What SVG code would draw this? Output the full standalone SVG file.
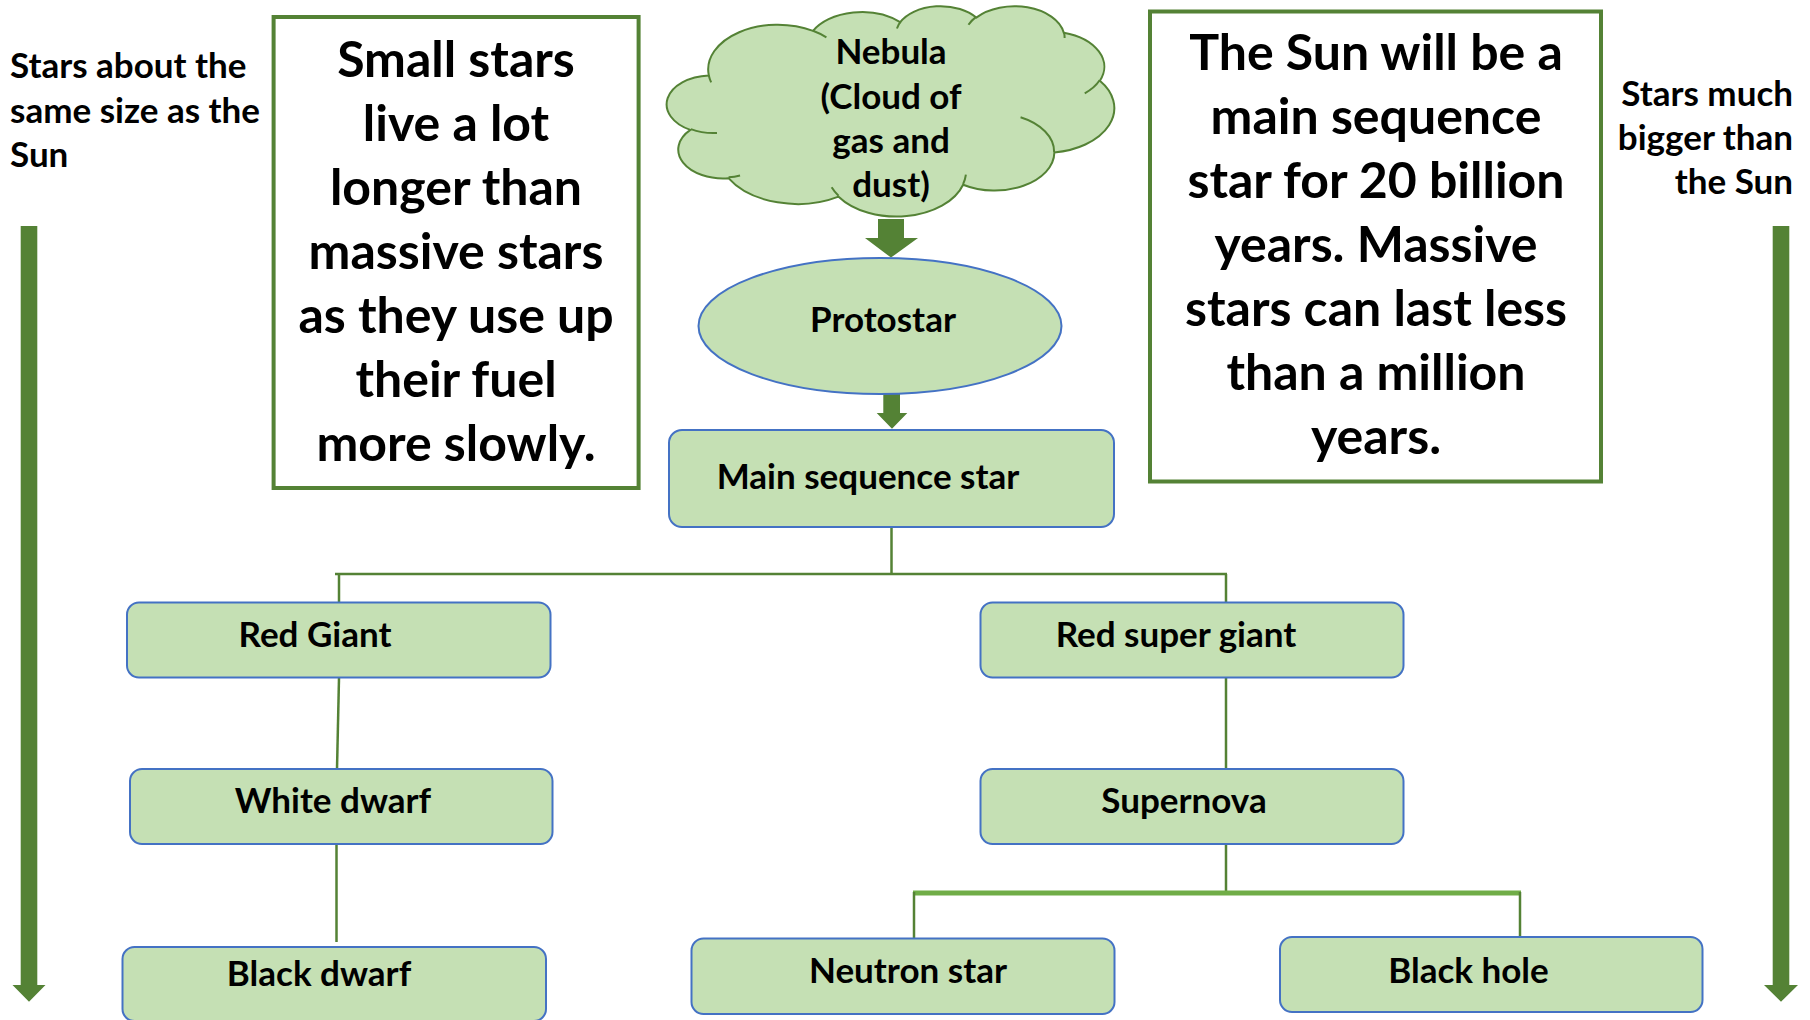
<svg xmlns="http://www.w3.org/2000/svg" width="1810" height="1020" viewBox="0 0 1810 1020">
<style>
text{font-family:Lato,"Liberation Sans",sans-serif;font-weight:700;fill:#000}
.lbl{font-size:35px}
.big{font-size:50px;text-anchor:middle}
.mid{text-anchor:middle}
.node{fill:#C5E0B4;stroke:#4472C4;stroke-width:2}
.conn{stroke:#548235;stroke-width:2.5;fill:none}
.note{fill:#fff;stroke:#548235;stroke-width:4}
.arrow{fill:#548235}
</style>
<rect width="1810" height="1020" fill="#fff"/>

<g id="side-left">
<polygon class="arrow" points="20.7,226 37.3,226 37.3,985 45.5,985 29,1001.7 12.5,985 20.7,985"/>
<text class="lbl" x="10" y="78">Stars about the</text>
<text class="lbl" x="10" y="123">same size as the</text>
<text class="lbl" x="10" y="167">Sun</text>
</g>
<g id="side-right">
<polygon class="arrow" points="1772.7,226 1789.3,226 1789.3,985 1798,985 1781,1001.7 1764,985 1772.7,985"/>
<text class="lbl" x="1793" y="106" text-anchor="end">Stars much</text>
<text class="lbl" x="1793" y="150" text-anchor="end">bigger than</text>
<text class="lbl" x="1793" y="194" text-anchor="end">the Sun</text>
</g>

<g id="note-small">
<rect class="note" x="273.6" y="17" width="365" height="471"/>
<text class="big" x="456" y="77">Small stars</text>
<text class="big" x="456" y="141">live a lot</text>
<text class="big" x="456" y="205">longer than</text>
<text class="big" x="456" y="269">massive stars</text>
<text class="big" x="456" y="333">as they use up</text>
<text class="big" x="456" y="397">their fuel</text>
<text class="big" x="456" y="461">more slowly.</text>
</g>
<g id="note-sun">
<rect class="note" x="1150" y="11.5" width="451" height="470"/>
<text class="big" x="1376" y="70">The Sun will be a</text>
<text class="big" x="1376" y="134">main sequence</text>
<text class="big" x="1376" y="198">star for 20 billion</text>
<text class="big" x="1376" y="262">years. Massive</text>
<text class="big" x="1376" y="326">stars can last less</text>
<text class="big" x="1376" y="390">than a million</text>
<text class="big" x="1376" y="454">years.</text>
</g>

<g id="connectors">
<polygon class="arrow" points="878,219 904,219 904,238 918,238 891,257.6 865,238 878,238"/>
<polygon class="arrow" points="883.3,389 900,389 900,413 907.3,413 892,428.7 876.7,413 883.3,413"/>
<line class="conn" x1="891.5" y1="527" x2="891.5" y2="574"/>
<line class="conn" x1="335" y1="574" x2="1227" y2="574"/>
<line class="conn" x1="339" y1="574" x2="339" y2="602"/>
<line class="conn" x1="1226" y1="574" x2="1226" y2="602"/>
<line class="conn" x1="339" y1="678" x2="337" y2="769"/>
<line class="conn" x1="336.5" y1="844" x2="336.5" y2="942"/>
<line class="conn" x1="1226" y1="678" x2="1226" y2="769"/>
<line class="conn" x1="1226" y1="844" x2="1226" y2="893"/>
<line x1="913" y1="893" x2="1521" y2="893" stroke="#70AD47" stroke-width="5"/>
<line class="conn" x1="914" y1="892" x2="914" y2="938"/>
<line class="conn" x1="1520" y1="892" x2="1520" y2="937"/>
</g>

<g id="nebula">
<g transform="translate(668.6,5.52) scale(0.010313,0.004868)">
<path fill="#C5E0B4" stroke="#548235" stroke-width="2" vector-effect="non-scaling-stroke" d="M3900 14370 A6753 9190 0 0 1 14004 5201 A5333 7267 0 0 1 22455 3430 A4365 5945 0 0 1 29832 2479 A4857 6595 0 0 1 38318 5574 A5333 7273 0 0 1 41818 15458 A6775 9220 0 0 1 37405 30202 A5785 7867 0 0 1 28556 36812 A6752 9215 0 0 1 16482 39265 A7720 10543 0 0 1 5805 35471 A4360 5918 0 0 1 2112 25552 A4345 5945 0 0 1 3900 14370 Z"/>
<path fill="none" stroke="#548235" stroke-width="2" vector-effect="non-scaling-stroke" d="M4693 26177 A4345 5945 0 0 1 2160 25380 M6928 34899 A4360 5918 0 0 1 5820 35280 M16478 39090 A6752 9215 0 0 1 15809 37348 M28827 34751 A6752 9215 0 0 1 28560 36660 M34129 22954 A5785 7867 0 0 1 37381 30090 M41798 15354 A5333 7273 0 0 1 40350 18030 M38324 5426 A4857 6595 0 0 1 38400 6689 M29078 3952 A4857 6595 0 0 1 29820 2340 M22141 4720 A4365 5945 0 0 1 22500 3330 M14000 5192 A6753 9190 0 0 1 15301 6542 M4127 15789 A6753 9190 0 0 1 3900 14372"/>
</g>
<text class="lbl mid" x="891" y="64">Nebula</text>
<text class="lbl mid" x="891" y="108.5">(Cloud of</text>
<text class="lbl mid" x="891" y="153">gas and</text>
<text class="lbl mid" x="891" y="197">dust)</text>
</g>

<g id="protostar">
<ellipse class="node" cx="880" cy="326" rx="181.5" ry="68"/>
<text class="lbl mid" x="883" y="332">Protostar</text>
</g>
<g id="main-sequence">
<rect class="node" x="669" y="430" width="445" height="97" rx="13"/>
<text class="lbl mid" x="868" y="489">Main sequence star</text>
</g>
<g id="red-giant">
<rect class="node" x="127" y="602.5" width="423.5" height="75" rx="12"/>
<text class="lbl mid" x="315" y="647">Red Giant</text>
</g>
<g id="white-dwarf">
<rect class="node" x="130" y="769" width="422.5" height="75" rx="12"/>
<text class="lbl mid" x="333" y="813">White dwarf</text>
</g>
<g id="black-dwarf">
<rect class="node" x="122.5" y="947" width="423.5" height="74" rx="12"/>
<text class="lbl mid" x="319" y="986">Black dwarf</text>
</g>
<g id="red-super-giant">
<rect class="node" x="980.5" y="602.5" width="423" height="75" rx="12"/>
<text class="lbl mid" x="1176" y="647">Red super giant</text>
</g>
<g id="supernova">
<rect class="node" x="980.5" y="769" width="423" height="75" rx="12"/>
<text class="lbl mid" x="1184" y="813">Supernova</text>
</g>
<g id="neutron-star">
<rect class="node" x="691.5" y="938.5" width="423" height="75.5" rx="12"/>
<text class="lbl mid" x="908" y="983">Neutron star</text>
</g>
<g id="black-hole">
<rect class="node" x="1280" y="937" width="422.5" height="75" rx="12"/>
<text class="lbl mid" x="1468.5" y="983">Black hole</text>
</g>
</svg>
